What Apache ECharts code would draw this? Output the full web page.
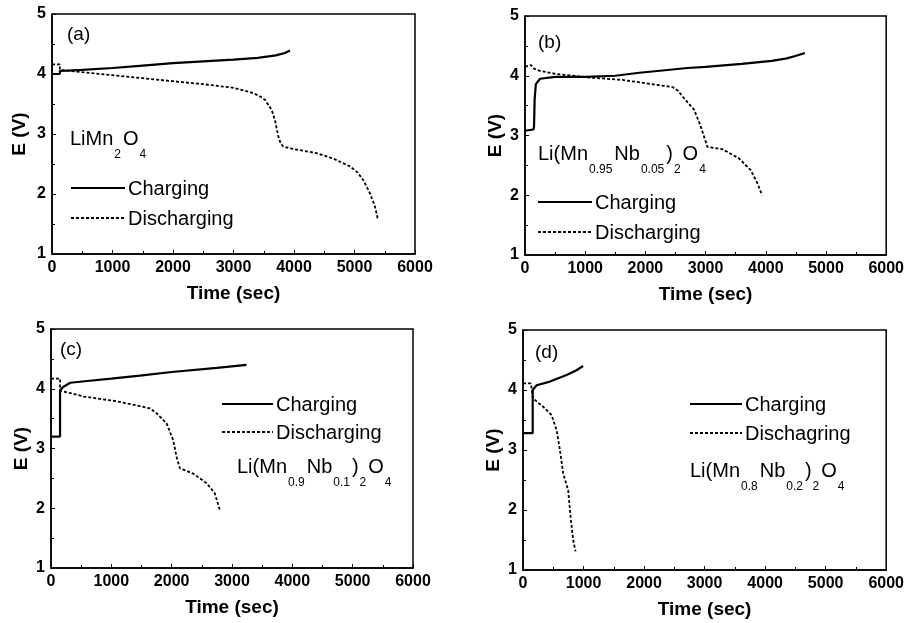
<!DOCTYPE html>
<html>
<head>
<meta charset="utf-8">
<title>E vs time, charge / discharge</title>
<script src="https://cdn.jsdelivr.net/npm/echarts@6/dist/echarts.min.js"></script>
<style>
    html, body { margin: 0; padding: 0; background: #fff; }
    #chart { width: 907px; height: 623px; }
</style>
</head>
<body>
<div id="chart"></div>
<script>
    // axis ranges (same for the four panels)
    var timeMin = 0, timeMax = 6000, timeStep = 1000;
    var voltMin = 1, voltMax = 5, voltStep = 1;
    var xName = 'Time (sec)';
    var yName = 'E (V)';

    // [time (sec), E (V)]
    var chargeA = [[0, 4.0], [130, 4.0], [130, 4.05], [500, 4.07], [1000, 4.1], [1500, 4.14], [2000, 4.18],
        [2500, 4.21], [3000, 4.24], [3400, 4.27], [3700, 4.31], [3850, 4.35], [3934, 4.39]];
    var dischargeA = [[0, 4.16], [130, 4.16], [130, 4.07], [500, 4.03], [1000, 3.98], [1500, 3.93], [2000, 3.88],
        [2500, 3.83], [3000, 3.77], [3273, 3.7], [3420, 3.64], [3521, 3.57], [3631, 3.4], [3686, 3.23],
        [3741, 2.96], [3780, 2.84], [3824, 2.79], [3989, 2.75], [4375, 2.68], [4650, 2.59], [4926, 2.46],
        [5050, 2.36], [5146, 2.23], [5256, 2.01], [5339, 1.79], [5383, 1.59]];

    var chargeB = [[0, 3.08], [140, 3.1], [150, 3.15], [160, 3.6], [180, 3.86], [250, 3.95], [500, 3.98],
        [1000, 3.98], [1500, 4.0], [1900, 4.05], [2200, 4.08], [2700, 4.13], [3000, 4.15], [3600, 4.2],
        [4100, 4.25], [4350, 4.29], [4490, 4.33], [4650, 4.38]];
    var dischargeB = [[0, 4.15], [100, 4.18], [150, 4.12], [250, 4.08], [520, 4.03], [1070, 3.97], [1620, 3.93],
        [1900, 3.89], [2450, 3.81], [2540, 3.75], [2620, 3.65], [2810, 3.43], [2920, 3.15], [3030, 2.81],
        [3280, 2.77], [3550, 2.62], [3750, 2.42], [3860, 2.2], [3940, 2.0]];

    var chargeC = [[0, 3.2], [150, 3.2], [150, 3.97], [200, 4.03], [320, 4.1], [600, 4.13], [1000, 4.17],
        [1474, 4.22], [2000, 4.28], [2750, 4.35], [3240, 4.4]];
    var dischargeC = [[0, 4.17], [150, 4.17], [150, 3.97], [540, 3.87], [1090, 3.79], [1474, 3.71], [1644, 3.67],
        [1750, 3.59], [1916, 3.42], [2025, 3.14], [2081, 2.86], [2136, 2.67], [2357, 2.58], [2578, 2.42],
        [2715, 2.25], [2798, 1.97]];

    var chargeD = [[0, 3.28], [160, 3.28], [160, 4.0], [225, 4.08], [445, 4.14], [720, 4.25], [885, 4.33],
        [993, 4.4]];
    var dischargeD = [[0, 4.11], [130, 4.11], [165, 3.86], [334, 3.72], [473, 3.58], [555, 3.33], [610, 3.0],
        [664, 2.61], [746, 2.33], [791, 1.83], [829, 1.5], [868, 1.31]];

    var panelTags = ['(a)', '(b)', '(c)', '(d)'];
    var chargeNames = ['Charging', 'Charging', 'Charging', 'Charging'];
    var dischargeNames = ['Discharging', 'Discharging', 'Discharging', 'Dischagring'];
    // compound names: main text / subscript pieces
    var compounds = [
        [['m', 'LiMn'], ['s', '2'], ['m', 'O'], ['s', '4']],
        [['m', 'Li(Mn'], ['s', '0.95'], ['m', 'Nb'], ['s', '0.05'], ['m', ')'], ['s', '2'], ['m', 'O'], ['s', '4']],
        [['m', 'Li(Mn'], ['s', '0.9'], ['m', 'Nb'], ['s', '0.1'], ['m', ')'], ['s', '2'], ['m', 'O'], ['s', '4']],
        [['m', 'Li(Mn'], ['s', '0.8'], ['m', 'Nb'], ['s', '0.2'], ['m', ')'], ['s', '2'], ['m', 'O'], ['s', '4']]
    ];
    var chargeData = [chargeA, chargeB, chargeC, chargeD];
    var dischargeData = [dischargeA, dischargeB, dischargeC, dischargeD];

    // layout of each panel
    var grids = [
        {left: 52, top: 14, width: 363, height: 240},
        {left: 525, top: 16, width: 363, height: 239},
        {left: 51, top: 329, width: 362, height: 239},
        {left: 523, top: 330, width: 364, height: 240}
    ];
    var tagPos = [[67, 35], [538, 43], [60, 350], [535, 353]];
    // left x, centre y of main letters
    var compoundPos = [[70, 139], [538, 154], [237, 467], [690, 471]];
    // legend: [lineStartX, lineEndX, y of solid line, y of dashed line]
    var legendPos = [[71, 125, 188, 218], [538, 592, 202, 232], [222, 273, 404, 432], [690, 742, 404, 433]];
    var yNameGap = [23, 20, 20, 20];

    var FONT = '"Liberation Sans", Arial, Helvetica, sans-serif';
    var MAIN_FONT = '20px ' + FONT;
    var SUB_FONT = '12px ' + FONT;

    // measure text widths so subscripts can be laid out piece by piece
    var measureCtx = document.createElement('canvas').getContext('2d');
    function textWidth(txt, font) {
        measureCtx.font = font;
        return measureCtx.measureText(txt).width;
    }

    var myChart = echarts.init(document.getElementById('chart'), null, {renderer: 'canvas'});

    var xAxis = [], yAxis = [], series = [], graphic = [];
    for (var i = 0; i < 4; i++) {
        xAxis.push({
            type: 'value', gridIndex: i, min: timeMin, max: timeMax, interval: timeStep,
            name: xName, nameLocation: 'middle', nameGap: 30,
            nameTextStyle: {fontFamily: FONT, fontSize: 19, fontWeight: 'bold', color: '#000'},
            axisLine: {lineStyle: {color: '#000', width: 1.5}},
            axisTick: {inside: true, length: 4, lineStyle: {color: '#000'}},
            minorTick: {show: true, splitNumber: 2, length: 3, lineStyle: {color: '#000'}},
            axisLabel: {
                fontFamily: FONT, fontSize: 16, fontWeight: 'bold', color: '#000', margin: 6,
                formatter: function (v) { return String(v); }
            },
            splitLine: {show: false}
        });
        yAxis.push({
            type: 'value', gridIndex: i, min: voltMin, max: voltMax, interval: voltStep,
            name: yName, nameLocation: 'middle', nameGap: yNameGap[i],
            nameTextStyle: {fontFamily: FONT, fontSize: 19, fontWeight: 'bold', color: '#000'},
            axisLine: {lineStyle: {color: '#000', width: 1.5}},
            axisTick: {inside: true, length: 4, lineStyle: {color: '#000'}},
            minorTick: {show: true, splitNumber: 2, length: 3, lineStyle: {color: '#000'}},
            axisLabel: {fontFamily: FONT, fontSize: 16, fontWeight: 'bold', color: '#000', margin: 6},
            splitLine: {show: false}
        });
        series.push({
            name: chargeNames[i], type: 'line', xAxisIndex: i, yAxisIndex: i,
            data: chargeData[i], symbol: 'none', silent: true,
            lineStyle: {color: '#000', width: 2.2, type: 'solid'}
        });
        series.push({
            name: dischargeNames[i], type: 'line', xAxisIndex: i, yAxisIndex: i,
            data: dischargeData[i], symbol: 'none', silent: true,
            lineStyle: {color: '#000', width: 1.8, type: [3, 2]}
        });

        // panel tag
        graphic.push({
            type: 'text', x: tagPos[i][0], y: tagPos[i][1],
            style: {text: panelTags[i], fill: '#000', font: '19px ' + FONT, verticalAlign: 'middle'}
        });
        // compound name, subscripts dropped below the baseline
        var cx = compoundPos[i][0], cy = compoundPos[i][1];
        compounds[i].forEach(function (p) {
            var isSub = p[0] === 's';
            var f = isSub ? SUB_FONT : MAIN_FONT;
            if (isSub) cx += 1;
            graphic.push({
                type: 'text', x: cx, y: isSub ? cy + 16 : cy,
                style: {text: p[1], fill: '#000', font: f, verticalAlign: 'middle'}
            });
            cx += textWidth(p[1], f) + (isSub ? 2 : 0);
        });
        // legend samples
        var lp = legendPos[i];
        graphic.push({
            type: 'line', shape: {x1: lp[0], y1: lp[2], x2: lp[1], y2: lp[2]},
            style: {stroke: '#000', lineWidth: 2.2}
        });
        graphic.push({
            type: 'line', shape: {x1: lp[0], y1: lp[3], x2: lp[1], y2: lp[3]},
            style: {stroke: '#000', lineWidth: 1.8, lineDash: [3, 2]}
        });
        graphic.push({
            type: 'text', x: lp[1] + 3, y: lp[2] + 1,
            style: {text: chargeNames[i], fill: '#000', font: MAIN_FONT, verticalAlign: 'middle'}
        });
        graphic.push({
            type: 'text', x: lp[1] + 3, y: lp[3] + 1,
            style: {text: dischargeNames[i], fill: '#000', font: MAIN_FONT, verticalAlign: 'middle'}
        });
    }

    myChart.setOption({
        animation: false,
        backgroundColor: '#fff',
        grid: grids.map(function (g) {
            return {left: g.left, top: g.top, width: g.width, height: g.height,
                show: true, borderColor: '#000', borderWidth: 1.5, containLabel: false};
        }),
        xAxis: xAxis,
        yAxis: yAxis,
        series: series,
        graphic: graphic
    });
</script>
</body>
</html>
